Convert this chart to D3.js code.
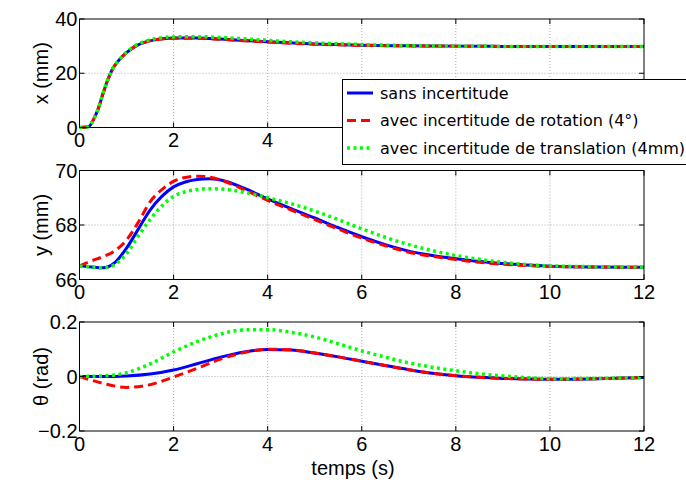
<!DOCTYPE html>
<html>
<head>
<meta charset="utf-8">
<script src="https://cdn.jsdelivr.net/npm/d3@7"></script>
<style>
  body { margin: 0; background: #fff; }
  text { font-family: "Liberation Sans", Arial, sans-serif; fill: #000; }
  .legend text { font-family: "DejaVu Sans", sans-serif; }
</style>
</head>
<body>
<script>
// time values (s)
var tX = [0,0.1,0.2,0.3,0.4,0.5,0.6,0.7,0.8,0.9,1,1.2,1.4,1.6,1.8,2,2.5,3,3.5,4,5,6,7,8,9,10,11,12];
var tY = [0,0.25,0.5,0.75,1,1.25,1.5,1.75,2,2.25,2.5,2.75,3,3.5,4,4.5,5,5.5,6,6.5,7,7.5,8,8.5,9,9.5,10,11,12];
var tT = [0,0.5,1,1.5,2,2.5,3,3.5,4,4.5,5,5.5,6,6.5,7,7.5,8,8.5,9,9.5,10,11,12];

// x (mm)
var xSans  = [0,0.05,0.4,3,7,12.5,17.5,21.5,24,26,27.6,30.1,31.5,32.3,32.8,33,33,32.6,32.1,31.6,30.8,30.3,30.1,30,29.9,29.9,29.9,29.9];
var xRot   = [0,0.05,0.4,3,7,12.5,17.5,21.5,24,26,27.6,30.1,31.5,32.3,32.7,32.9,32.9,32.5,32,31.5,30.7,30.3,30.1,30,29.9,29.9,29.9,29.9];
var xTrans = [0,0.05,0.4,3,7,12.5,17.5,21.5,24.1,26.1,27.8,30.3,31.8,32.7,33.2,33.4,33.5,33.2,32.7,32.1,31.2,30.6,30.2,30,29.9,29.9,29.9,29.9];

// y (mm)
var ySans  = [66.5,66.46,66.43,66.62,67.15,67.85,68.55,69.05,69.4,69.58,69.67,69.7,69.65,69.35,68.96,68.6,68.26,67.9,67.57,67.28,67.04,66.88,66.76,66.66,66.59,66.53,66.49,66.46,66.45];
var yRot   = [66.5,66.68,66.84,67.05,67.45,68.1,68.85,69.3,69.6,69.74,69.79,69.76,69.65,69.3,68.9,68.55,68.2,67.85,67.52,67.24,67.0,66.85,66.73,66.63,66.56,66.51,66.48,66.46,66.45];
var yTrans = [66.5,66.46,66.43,66.55,66.95,67.6,68.2,68.7,69.05,69.22,69.3,69.33,69.32,69.2,69.0,68.78,68.51,68.2,67.86,67.55,67.28,67.06,66.88,66.74,66.63,66.55,66.5,66.47,66.46];

// theta (rad)
var thSans  = [0,0,0.002,0.009,0.024,0.047,0.071,0.09,0.099,0.097,0.086,0.072,0.056,0.04,0.025,0.012,0.003,-0.003,-0.007,-0.009,-0.01,-0.008,-0.004];
var thRot   = [0,-0.025,-0.04,-0.03,-0.002,0.03,0.064,0.088,0.1,0.098,0.086,0.072,0.056,0.04,0.025,0.012,0.003,-0.003,-0.007,-0.009,-0.01,-0.008,-0.004];
var thTrans = [0,0.002,0.014,0.046,0.09,0.128,0.156,0.171,0.172,0.162,0.145,0.12,0.094,0.071,0.05,0.034,0.021,0.01,0.002,-0.004,-0.008,-0.007,-0.004];

var xTicks = [0,2,4,6,8,10,12];
var legendLabels = ["sans incertitude", "avec incertitude de rotation (4°)", "avec incertitude de translation (4mm)"];

var seriesStyle = [
  {color: "#0000ff", dash: null, width: 3},
  {color: "#ff0000", dash: "9,5", width: 3},
  {color: "#00ff00", dash: "3,3.5", width: 3.5}
];

var legendBox = {x: 342.5, y: 79.5, w: 400, h: 85};

var panels = [
  {top: 19, bottom: 127.5, domain: [0,40], ticks: [0,20,40], fmt: d3.format("d"), label: "x (mm)", t: tX, series: [xSans, xRot, xTrans]},
  {top: 170.5, bottom: 279.5, domain: [66,70], ticks: [66,68,70], fmt: d3.format("d"), label: "y (mm)", t: tY, series: [ySans, yRot, yTrans]},
  {top: 322, bottom: 431, domain: [-0.2,0.2], ticks: [-0.2,0,0.2], fmt: function(d) { return d === 0 ? "0" : d3.format(".1f")(d); }, label: "\u03b8 (rad)", t: tT, series: [thSans, thRot, thTrans]}
];

var W = 686, H = 482;
var svg = d3.select("body").append("svg").attr("width", W).attr("height", H);
var x = d3.scaleLinear().domain([0,12]).range([79.5,644]);

panels.forEach(function(p, pi) {
  var y = d3.scaleLinear().domain(p.domain).range([p.bottom, p.top]);
  var g = svg.append("g");

  // grid
  g.selectAll(".vg").data(xTicks.slice(1, -1)).enter().append("line")
    .attr("x1", function(d) { return x(d); }).attr("x2", function(d) { return x(d); })
    .attr("y1", p.top).attr("y2", p.bottom)
    .attr("stroke", "#999").attr("stroke-width", 0.8).attr("stroke-dasharray", "1,2");
  g.selectAll(".hg").data(p.ticks.slice(1, -1)).enter().append("line")
    .attr("x1", x(0)).attr("x2", x(12))
    .attr("y1", function(d) { return y(d); }).attr("y2", function(d) { return y(d); })
    .attr("stroke", "#999").attr("stroke-width", 0.8).attr("stroke-dasharray", "1,2");

  // curves
  var clipId = "clip" + pi;
  svg.append("clipPath").attr("id", clipId).append("rect")
    .attr("x", x(0)).attr("y", p.top - 3).attr("width", x(12) - x(0)).attr("height", p.bottom - p.top + 6);
  var line = d3.line()
    .x(function(d, i) { return x(p.t[i]); })
    .y(function(d) { return y(d); })
    .curve(d3.curveMonotoneX);
  p.series.forEach(function(s, i) {
    var st = seriesStyle[i];
    g.append("path").datum(s)
      .attr("clip-path", "url(#" + clipId + ")")
      .attr("d", line)
      .attr("fill", "none")
      .attr("stroke", st.color)
      .attr("stroke-width", st.width)
      .attr("stroke-dasharray", st.dash);
  });

  // frame
  g.append("rect").attr("x", x(0)).attr("y", p.top)
    .attr("width", x(12) - x(0)).attr("height", p.bottom - p.top)
    .attr("fill", "none").attr("stroke", "#000").attr("stroke-width", 1);

  // inward ticks
  var tl = 5;
  xTicks.forEach(function(d) {
    g.append("line").attr("x1", x(d)).attr("x2", x(d)).attr("y1", p.bottom).attr("y2", p.bottom - tl).attr("stroke", "#000");
    g.append("line").attr("x1", x(d)).attr("x2", x(d)).attr("y1", p.top).attr("y2", p.top + tl).attr("stroke", "#000");
  });
  p.ticks.forEach(function(d) {
    g.append("line").attr("x1", x(0)).attr("x2", x(0) + tl).attr("y1", y(d)).attr("y2", y(d)).attr("stroke", "#000");
    g.append("line").attr("x1", x(12)).attr("x2", x(12) - tl).attr("y1", y(d)).attr("y2", y(d)).attr("stroke", "#000");
  });

  // tick labels (top panel: the ones behind the legend are hidden)
  var shownX = pi === 0 ? xTicks.filter(function(d) { return x(d) + 12 < legendBox.x; }) : xTicks;
  g.selectAll(".xl").data(shownX).enter().append("text")
    .attr("x", function(d) { return x(d); })
    .attr("y", p.bottom + 19.5)
    .attr("text-anchor", "middle")
    .attr("font-size", 20)
    .text(function(d) { return d; });
  g.selectAll(".yl").data(p.ticks).enter().append("text")
    .attr("x", x(0) - 2)
    .attr("y", function(d) { return y(d) + 7; })
    .attr("text-anchor", "end")
    .attr("font-size", 20)
    .text(p.fmt);

  // axis label
  g.append("text")
    .attr("transform", "translate(48," + ((p.top + p.bottom) / 2) + ") rotate(-90)")
    .attr("text-anchor", "middle")
    .attr("font-size", 20)
    .text(p.label);
});

svg.append("text")
  .attr("x", 353).attr("y", 475)
  .attr("text-anchor", "middle")
  .attr("font-size", 20)
  .text("temps (s)");

// legend
var lg = svg.append("g").attr("class", "legend");
lg.append("rect").attr("x", legendBox.x).attr("y", legendBox.y).attr("width", legendBox.w).attr("height", legendBox.h)
  .attr("fill", "#fff").attr("stroke", "#000").attr("stroke-width", 1);
var rowY = [93, 120.5, 148];
legendLabels.forEach(function(lab, i) {
  var st = seriesStyle[i];
  lg.append("line").attr("x1", 347).attr("x2", 373).attr("y1", rowY[i]).attr("y2", rowY[i])
    .attr("stroke", st.color).attr("stroke-width", st.width).attr("stroke-dasharray", st.dash);
  lg.append("text").attr("x", 380).attr("y", rowY[i] + 5.5)
    .attr("font-size", 16)
    .text(lab);
});
</script>
</body>
</html>
